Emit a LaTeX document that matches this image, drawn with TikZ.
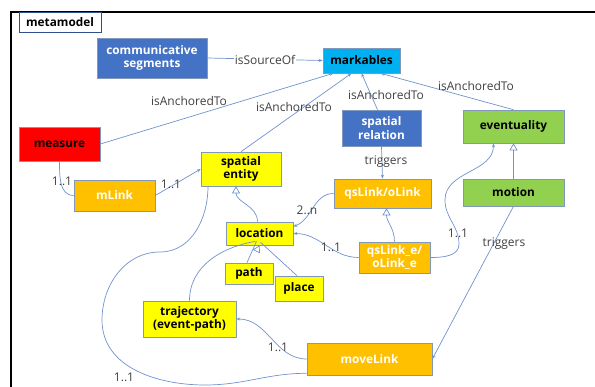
\documentclass[tikz,border=0pt]{standalone}
\usepackage{fontspec}
\setmainfont{Open Sans}
\usetikzlibrary{calc}
\usetikzlibrary{arrows.meta}
\definecolor{cobalt}{RGB}{68, 114, 196}
\definecolor{skyblue}{RGB}{0, 176, 240}
\definecolor{signalred}{RGB}{255, 0, 0}
\definecolor{amber}{RGB}{255, 192, 0}
\definecolor{lemon}{RGB}{255, 255, 0}
\definecolor{grass}{RGB}{146, 208, 80}
\definecolor{slate}{RGB}{47, 82, 143}
\definecolor{wire}{RGB}{112, 146, 205}
\definecolor{ink}{RGB}{64, 64, 64}

\begin{document}
\begin{tikzpicture}[x=1pt, y=1pt,
    box/.style={draw=slate!60, line width=0.6pt, inner sep=1pt, align=center,
                font=\bfseries\fontsize{11.8}{13.5}\selectfont},
    lbl/.style={text=ink, inner sep=1pt, font=\fontsize{12}{13}\selectfont},
    rel/.style={wire, line width=0.7pt, -{Stealth[length=4pt, width=3pt]}},
    isa/.style={wire, line width=0.7pt, -{Triangle[open, length=7pt, width=8pt, fill=white]}},
    tie/.style={wire, line width=0.7pt}]
    \useasboundingbox (0,0) rectangle (595,-387);
    \draw[line width=1.3pt] (11,-387) -- (11,-12) -- (595,-12);
    % boxes
    \node[box, fill=white, draw=slate, minimum width=82pt, minimum height=20pt] (meta) at (60,-22) {metamodel};
    \node[box, fill=cobalt, text=white, minimum width=110pt, minimum height=40pt] (comm) at (152,-58) {communicative\\segments};
    \node[box, fill=skyblue, minimum width=77pt, minimum height=25pt] (markables) at (361.5,-60.5) {markables};
    \node[box, fill=signalred, minimum width=81pt, minimum height=34pt] (measure) at (59.5,-144) {measure};
    \node[box, fill=amber, text=white, minimum width=81pt, minimum height=31pt] (mlink) at (114.5,-195.5) {mLink};
    \node[box, fill=lemon, minimum width=80pt, minimum height=34pt] (sentity) at (241,-169) {spatial\\entity};
    \node[box, fill=cobalt, text=white, minimum width=79pt, minimum height=36pt] (srel) at (381.5,-128) {spatial\\relation};
    \node[box, fill=grass, minimum width=101pt, minimum height=33pt] (event) at (513.5,-126.5) {eventuality};
    \node[box, fill=amber, text=white, minimum width=97pt, minimum height=29pt] (qslink) at (382.5,-193.5) {qsLink/oLink};
    \node[box, fill=grass, minimum width=101pt, minimum height=27pt] (motion) at (513.5,-192.5) {motion};
    \node[box, fill=lemon, minimum width=67pt, minimum height=23pt] (loc) at (259.5,-233.5) {location};
    \node[box, fill=amber, text=white, minimum width=71pt, minimum height=31pt] (qse) at (394.5,-257.5) {qsLink\_e/\\oLink\_e};
    \node[box, fill=lemon, minimum width=48pt, minimum height=21pt] (path) at (249,-273.5) {path};
    \node[box, fill=lemon, minimum width=48pt, minimum height=25pt] (place) at (299,-288.5) {place};
    \node[box, fill=lemon, minimum width=93pt, minimum height=36pt] (traj) at (189.5,-319) {trajectory\\(event-path)};
    \node[box, fill=amber, text=white, minimum width=125pt, minimum height=32pt] (movelink) at (369.5,-359) {moveLink};
    % waypoints
    \coordinate (qe1) at (459,-244);
    \coordinate (qe2) at (445,-200);
    \coordinate (lg1) at (160,-252);
    \coordinate (lg2) at (102,-320);
    \coordinate (lg3) at (205,-385);
    % anchoring
    \draw[rel] (comm.east) -- (markables.west);
    \draw[rel] (measure.east) -- ($(markables.south)+(-28,0)$);
    \draw[rel] (sentity.north) -- ($(markables.south)+(-10,0)$);
    \draw[rel] ($(srel.north)+(-4,0)$) -- (markables.south);
    \draw[rel] (event.north) -- ($(markables.south)+(19,0)$);
    % links
    \draw[tie] (measure.south) to[out=-90, in=180] (mlink.west);
    \draw[rel] (mlink.east) -- (sentity.west);
    \draw[rel] (srel.south) -- (qslink.north);
    \draw[rel] (qslink.west) to[out=180, in=20] ($(loc.east)+(0,7)$);
    \draw[rel] (qse.west) to[out=180, in=0] (loc.east);
    \draw[rel] (qse.east) to[out=0, in=-90] (qe1) to[out=90, in=-90] (qe2) to[out=90, in=-90] ($(event.south)+(-20,0)$);
    \draw[rel] (motion.south) -- (movelink.east);
    \draw[rel] (movelink.west) to[out=180, in=0] (traj.east);
    \draw[tie] ($(sentity.south)+(-33,0)$) to[out=-90, in=0] (lg1) to[out=180, in=90] (lg2)
        to[out=-90, in=180] (lg3) to[out=0, in=180] ($(movelink.south west)+(0,2)$);
    % generalisation
    \draw[isa] (qse.north) to[out=90, in=-90] ($(qslink.south)+(4,0)$);
    \draw[isa] (motion.north) -- (event.south);
    \draw[isa] ($(loc.north)+(-2,0)$) to[out=90, in=-90] ($(sentity.south)+(-5,0)$);
    \draw[tie] ($(path.north)+(-2,0)$) -- ($(loc.south)+(-3,4)$);
    \draw[tie] ($(place.north)+(-2,0)$) -- ($(loc.south)+(1,3)$);
    \draw[tie] (traj.north) to[out=90, in=190] ($(loc.south)+(-4,4)$);
    \draw[isa] ($(loc.south)+(-1,-2)$) -- (loc.south);
    % labels
    \node[lbl, fill=white] (srcof) at (265,-60) {isSourceOf};
    \node[lbl] (anc1) at (189,-101) {isAnchoredTo};
    \node[lbl] (anc2) at (294,-107) {isAnchoredTo};
    \node[lbl] (anc3) at (386,-95) {isAnchoredTo};
    \node[lbl] (anc4) at (476,-86) {isAnchoredTo};
    \node[lbl] (m1) at (62,-181) {1..1};
    \node[lbl] (m2) at (171,-184) {1..1};
    \node[lbl] (trg1) at (386,-162) {triggers};
    \node[lbl] (m3) at (307,-210) {2..n};
    \node[lbl] (m4) at (331,-247) {1..1};
    \node[lbl] (m5) at (458,-233) {1..1};
    \node[lbl] (trg2) at (504,-244) {triggers};
    \node[lbl] (m6) at (278,-347) {1..1};
    \node[lbl] (m7) at (124,-377) {1..1};
\end{tikzpicture}
\end{document}
